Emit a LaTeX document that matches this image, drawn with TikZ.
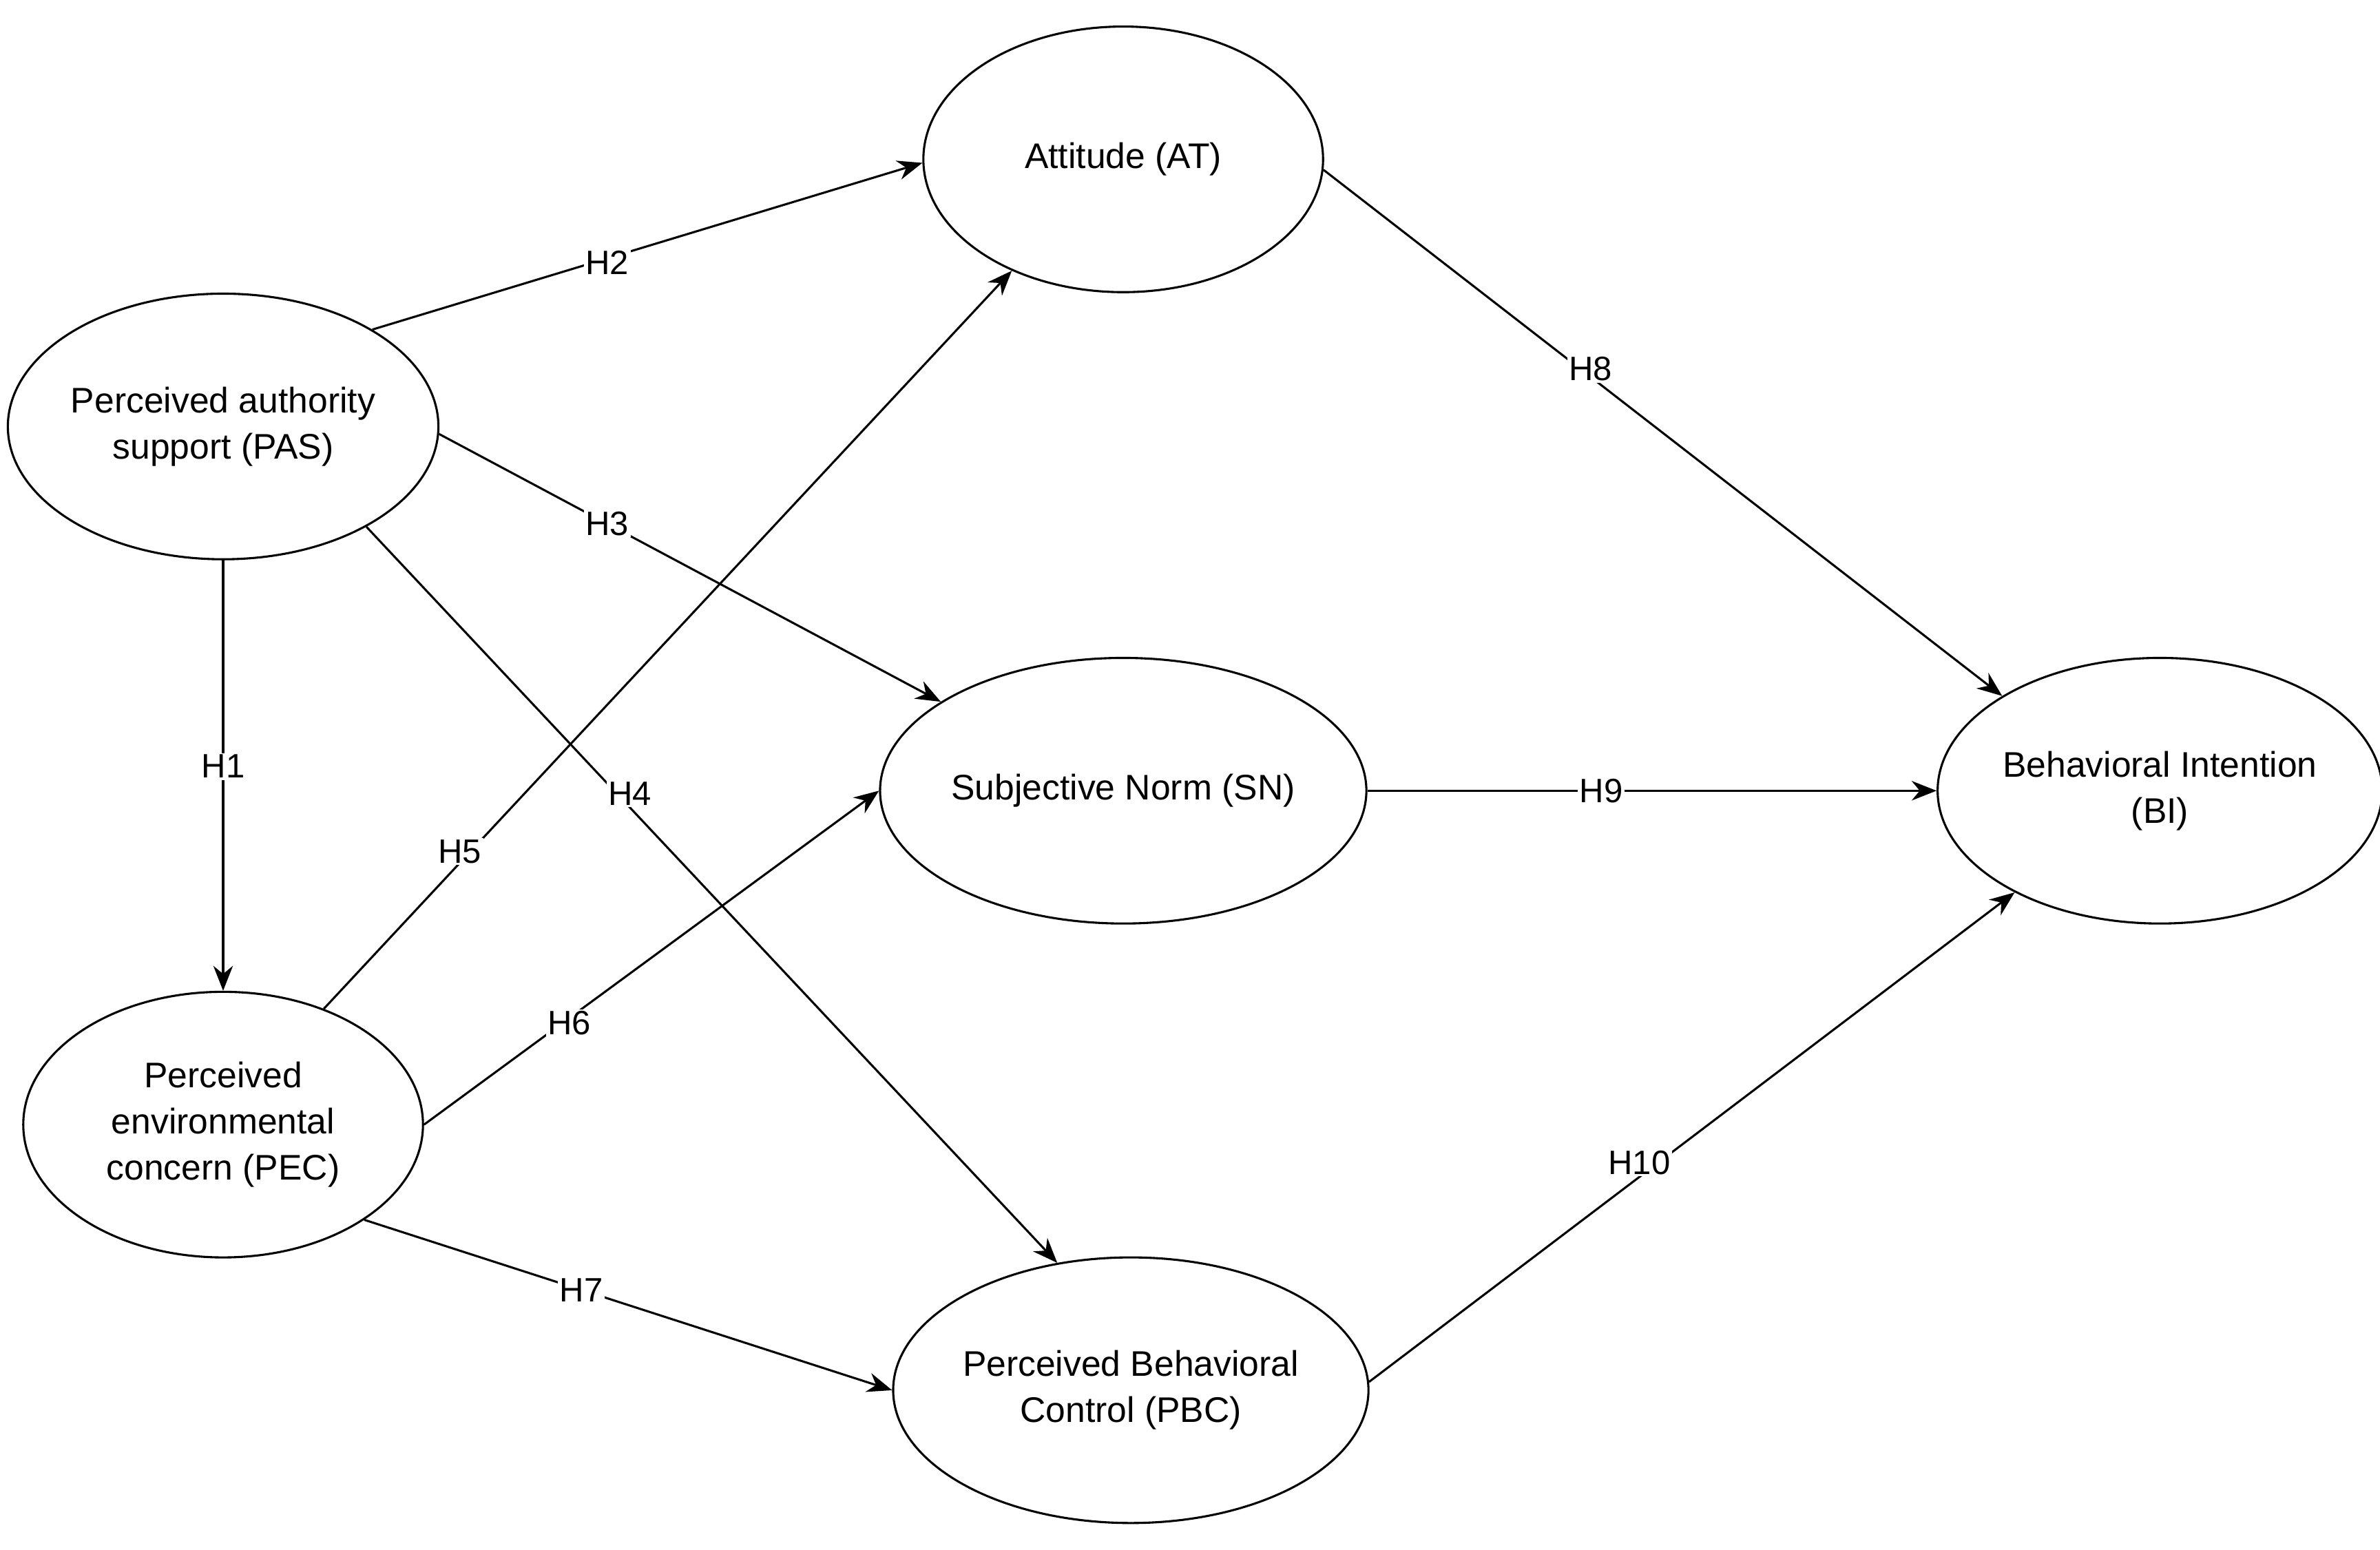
\documentclass[tikz,border=0pt]{standalone}
\usepackage{fontspec}
\setmainfont{Liberation Sans}
\usetikzlibrary{shapes.geometric,arrows.meta}
\begin{document}
\begin{tikzpicture}[x=0.03cm,y=-0.03cm,
  el/.style={draw,ellipse,line width=1.2pt,minimum width=7.9cm,minimum height=5.25cm,inner sep=0pt,align=center,font=\fontsize{20}{26}\selectfont},
  ar/.style={line width=1.2pt,-{Stealth[length=14pt,width=11pt]}},
  lb/.style={fill=white,inner sep=1pt,font=\fontsize{19}{22}\selectfont}]
\useasboundingbox (0,0) rectangle (1568,1021);
\node[el] (PAS) at (147,281) {Perceived authority\\support (PAS)};
\node[el] (PEC) at (147,741) {Perceived\\environmental\\concern (PEC)};
\node[el] (AT) at (740,105) {Attitude (AT)};
\node[el] (SN) at (740,521) {Subjective Norm (SN)};
\node[el] (PBC) at (745,916) {Perceived Behavioral\\Control (PBC)};
\node[el] (BI) at (1423,521) {Behavioral Intention\\(BI)};
\draw[ar] (PAS.33) -- (AT.181);
\draw[ar] (PAS.-2) -- (SN.154);
\draw[ar] (PAS.-35) -- (PBC.120);
\draw[ar] (PAS.-90) -- (PEC.90);
\draw[ar] (PEC.49) -- (AT.225);
\draw[ar] (PEC.0) -- (SN.180);
\draw[ar] (PEC.-34) -- (PBC.180);
\draw[ar] (AT.-3) -- (BI.149);
\draw[ar] (SN.0) -- (BI.180);
\draw[ar] (PBC.2) -- (BI.215);
\node[lb] (h1) at (147,505) {H1};
\node[lb] (h2) at (400,173) {H2};
\node[lb] (h3) at (400,345) {H3};
\node[lb] (h4) at (415,523) {H4};
\node[lb] (h5) at (303,561) {H5};
\node[lb] (h6) at (375,674) {H6};
\node[lb] (h7) at (383,850) {H7};
\node[lb] (h8) at (1048,243) {H8};
\node[lb] (h9) at (1055,521) {H9};
\node[lb] (h10) at (1080,766) {H10};
\end{tikzpicture}
\end{document}
